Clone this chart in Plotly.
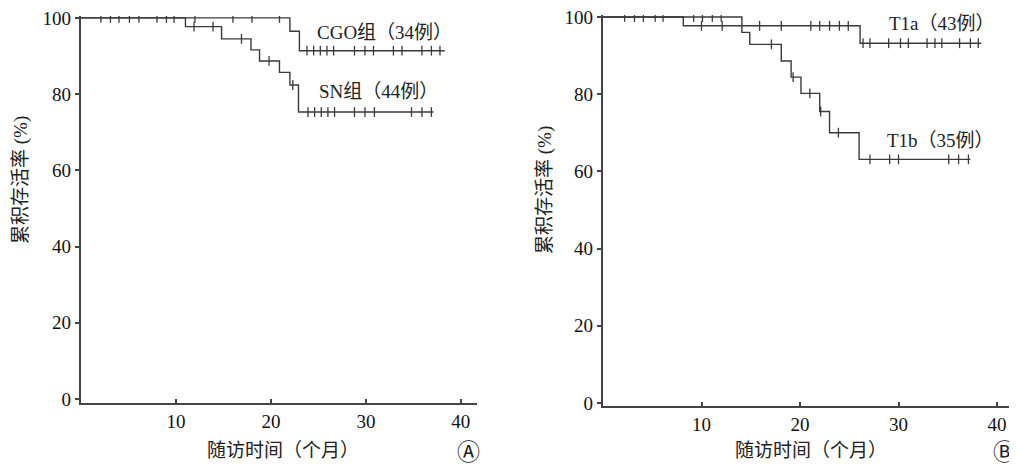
import numpy as np
import plotly.graph_objects as go

# ---------------- Data ----------------
# Panel A
cgo_event_t = [22.0, 23.0]
cgo_event_s = [96.5, 91.4]
cgo_end = 38.3
cgo_censor = [2.1, 3.1, 4.0, 5.1, 6.1, 8.0, 9.0, 9.8, 12.0, 16.0, 18.0, 20.9,
              23.8, 24.5, 25.2, 25.9, 26.6, 28.8, 29.9, 30.8, 32.9, 33.8, 35.9, 36.9, 37.8]

sn_event_t = [11.0, 14.8, 17.9, 18.8, 20.9, 22.0, 22.9]
sn_event_s = [97.7, 94.5, 91.6, 88.7, 85.7, 82.4, 75.3]
sn_end = 37.1
sn_censor = [11.9, 13.9, 16.9, 19.8, 22.3, 23.9, 24.6, 25.3, 26.0, 26.7, 28.8,
             29.9, 30.9, 34.8, 35.9, 36.9]

# Panel B
t1a_event_t = [8.15, 26.1]
t1a_event_s = [97.7, 93.2]
t1a_end = 38.4
t1a_censor = [2.2, 3.2, 4.1, 5.3, 6.1, 10.0, 12.1, 15.9, 18.1, 21.1, 22.0, 23.0,
              24.0, 24.9, 26.4, 27.1, 29.0, 30.2, 31.0, 32.9, 33.7, 34.4, 36.2, 37.3, 38.1]

t1b_event_t = [14.1, 14.9, 18.1, 19.1, 20.1, 22.0, 23.0, 26.0]
t1b_event_s = [96.0, 92.9, 88.6, 84.4, 80.2, 75.5, 70.0, 63.1]
t1b_end = 37.3
t1b_censor = [9.2, 10.1, 11.1, 12.0, 17.1, 19.3, 21.0, 22.1, 23.9, 27.1, 29.1, 30.0,
              35.1, 36.1, 37.1]

labels_A = ["CGO组（34例）", "SN组（44例）"]
labels_B = ["T1a（43例）", "T1b（35例）"]
y_title = "累积存活率 (%)"
x_title = "随访时间（个月）"
panel_tags = ["Ⓐ", "Ⓑ"]
x_ticks = [10, 20, 30, 40]
y_ticks = [0, 20, 40, 60, 80, 100]

# ---------------- Helpers ----------------
LINE = "#3a3a3a"
SERIF = "Liberation Serif, Noto Sans CJK SC"
OFF = 8            # page body margin of the html page
W, H = 1017, 465


def fx(px):
    return (px - OFF) / W


def fy(py):
    return 1 - (py - OFF) / H


def step_xy(ev_t, ev_s, end):
    x = [0.0] + list(ev_t) + [end]
    y = [100.0] + list(ev_s) + [ev_s[-1]]
    return x, y


def surv_at(ev_t, ev_s, times):
    t = np.asarray(ev_t)
    s = np.concatenate([[100.0], np.asarray(ev_s)])
    idx = np.searchsorted(t, np.asarray(times), side="right")
    return s[idx]


fig = go.Figure()

groups = [
    (cgo_event_t, cgo_event_s, cgo_end, cgo_censor, "x", "y"),
    (sn_event_t, sn_event_s, sn_end, sn_censor, "x", "y"),
    (t1a_event_t, t1a_event_s, t1a_end, t1a_censor, "x2", "y2"),
    (t1b_event_t, t1b_event_s, t1b_end, t1b_censor, "x2", "y2"),
]
for ev_t, ev_s, end, cens, xa, ya in groups:
    sx, sy = step_xy(ev_t, ev_s, end)
    fig.add_trace(go.Scatter(x=sx, y=sy, mode="lines", line=dict(color=LINE, width=1.4, shape="hv"),
                             xaxis=xa, yaxis=ya, showlegend=False, hoverinfo="skip"))
    fig.add_trace(go.Scatter(x=cens, y=surv_at(ev_t, ev_s, cens), mode="markers",
                             marker=dict(symbol="line-ns", size=7, line=dict(color=LINE, width=1.3)),
                             xaxis=xa, yaxis=ya, showlegend=False, hoverinfo="skip"))

axis_common = dict(showgrid=False, zeroline=False, showline=True, linecolor="#444", linewidth=2.2,
                   tickfont=dict(family=SERIF, size=19, color="#111"), tickcolor="#444", ticklen=4,
                   tickwidth=1.5, automargin=False, ticklabeloverflow="allow")

fig.update_layout(
    template="none",
    width=W, height=H, margin=dict(l=0, r=0, t=0, b=0),
    paper_bgcolor="white", plot_bgcolor="white",
    xaxis=dict(domain=[fx(81), fx(477)], range=[0, 41.7], tickvals=x_ticks, ticks="inside",
               anchor="y", **axis_common),
    yaxis=dict(domain=[fy(403), fy(16)], range=[-1.05, 100.5], tickvals=y_ticks, ticks="outside",
               anchor="x", **axis_common),
    xaxis2=dict(domain=[fx(603), fx(1017)], range=[0, (1017 - 603) / 9.85], tickvals=x_ticks, ticks="inside",
                anchor="y2", **axis_common),
    yaxis2=dict(domain=[fy(406), fy(15)], range=[-0.8, 100.5], tickvals=y_ticks, ticks="outside",
                anchor="x2", **axis_common),
)

ann_font = dict(family=SERIF, size=19, color="#222")
title_font = dict(family=SERIF, size=19, color="#222")
annotations = [
    dict(x=24.6, y=96.3, xref="x", yref="y", text=labels_A[0], xanchor="left", yanchor="middle", showarrow=False, font=ann_font),
    dict(x=24.9, y=80.6, xref="x", yref="y", text=labels_A[1], xanchor="left", yanchor="middle", showarrow=False, font=ann_font),
    dict(x=28.8, y=98.4, xref="x2", yref="y2", text=labels_B[0], xanchor="left", yanchor="middle", showarrow=False, font=ann_font),
    dict(x=28.6, y=68.1, xref="x2", yref="y2", text=labels_B[1], xanchor="left", yanchor="middle", showarrow=False, font=ann_font),
    dict(x=fx(21), y=fy(180), xref="paper", yref="paper", text=y_title, textangle=-90, showarrow=False,
         xanchor="center", yanchor="middle", font=title_font),
    dict(x=fx(545), y=fy(190), xref="paper", yref="paper", text=y_title, textangle=-90, showarrow=False,
         xanchor="center", yanchor="middle", font=title_font),
    dict(x=fx(283), y=fy(450), xref="paper", yref="paper", text=x_title, showarrow=False,
         xanchor="center", yanchor="middle", font=title_font),
    dict(x=fx(811), y=fy(450), xref="paper", yref="paper", text=x_title, showarrow=False,
         xanchor="center", yanchor="middle", font=title_font),
    dict(x=fx(468), y=fy(450), xref="paper", yref="paper", text=panel_tags[0], showarrow=False,
         xanchor="center", yanchor="middle", font=dict(family="Noto Sans CJK SC", size=23, color="#222")),
    dict(x=fx(1004), y=fy(450), xref="paper", yref="paper", text=panel_tags[1], showarrow=False,
         xanchor="center", yanchor="middle", font=dict(family="Noto Sans CJK SC", size=23, color="#222")),
]
fig.update_layout(annotations=annotations)

fig.write_html("out.html")
